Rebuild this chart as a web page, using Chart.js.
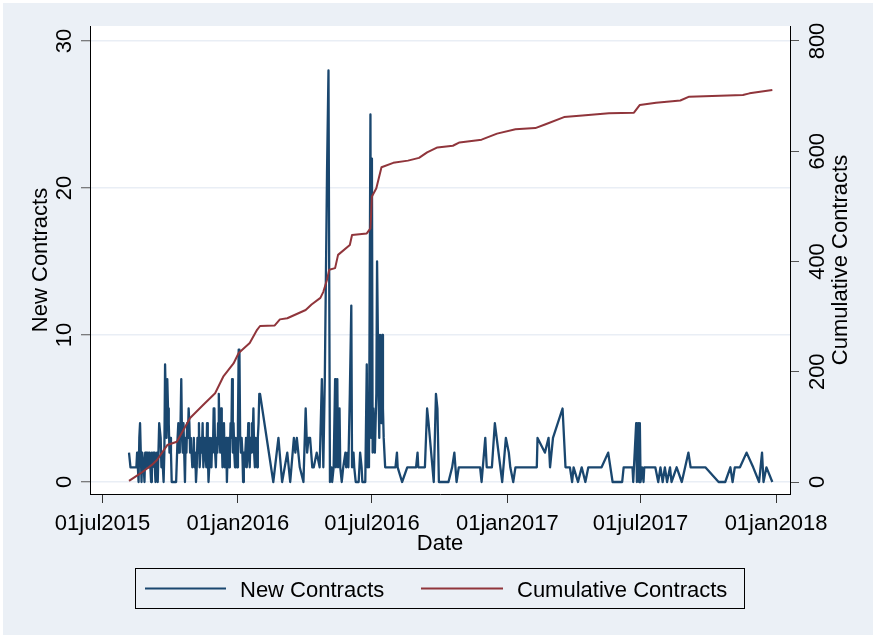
<!DOCTYPE html>
<html>
<head>
<meta charset="utf-8">
<title>New and Cumulative Contracts</title>
<script src="https://cdn.jsdelivr.net/npm/chart.js@4.4.1/dist/chart.umd.min.js"></script>
<style>
  html, body { margin: 0; padding: 0; background: #ffffff; }
  canvas { display: block; }
</style>
</head>
<body>
<canvas id="chart" width="876" height="638"></canvas>
<script>
// ---- data ----------------------------------------------------------------
const seriesNames = ['New Contracts', 'Cumulative Contracts'];
const xTickDates = ['2015-07-01', '2016-01-01', '2016-07-01', '2017-01-01', '2017-07-01', '2018-01-01'];
const leftTicks = [0, 10, 20, 30];
const rightTicks = [0, 200, 400, 600, 800];

// new contracts, one value per day starting at dailyStart
const dailyStart = '2015-08-06';
const dailyCounts = [
  2, 2, 1, 1, 1, 1, 1, 1, 1, 1, 1,
  2, 1, 0, 3, 4, 4, 0,
  2, 2, 1, 0, 2, 1, 2, 2, 1, 2,
  2, 1, 0, 2, 1, 2, 2, 1, 0, 1,
  2, 0, 2, 4, 4, 3, 1, 2, 2, 0,
  2, 8, 8, 3, 7, 5, 4, 2, 3, 2,
  0, 0, 0, 0, 0, 0, 0, 0,
  3, 4, 2, 3, 4, 7, 3, 2, 4, 2,
  0, 3, 2, 4, 3, 5, 4, 2, 3, 2,
  1, 2, 3, 1, 2, 0, 1, 3, 2, 4,
  1, 2, 3, 2, 4, 1, 2, 3, 2, 1,
  4, 2, 0, 1, 3, 2, 1, 3, 2, 5,
  5, 2, 1, 3, 2, 4, 6, 3, 2, 5,
  3, 1, 2, 4, 1, 2, 3, 0, 2, 3,
  1, 2, 4, 3, 7, 2, 4, 2, 1, 3,
  2, 1, 4, 9, 9, 3, 2, 3, 2, 0,
  2, 1, 2, 3, 1, 2, 4, 2, 1, 3,
  2, 4, 3, 5, 2, 1, 3, 2, 1, 3, 4, 6, 6
];

// new contracts on individual later dates
const laterDates = [
  '2016-02-18', '2016-02-25', '2016-03-01', '2016-03-08', '2016-03-12', '2016-03-17', '2016-03-19', '2016-03-21',
  '2016-03-25', '2016-03-30', '2016-04-02', '2016-04-04', '2016-04-06', '2016-04-08', '2016-04-11', '2016-04-13',
  '2016-04-17', '2016-04-21', '2016-04-24', '2016-04-26', '2016-04-28', '2016-05-01', '2016-05-03', '2016-05-05',
  '2016-05-07', '2016-05-08', '2016-05-10', '2016-05-12', '2016-05-13', '2016-05-15', '2016-05-16', '2016-05-18',
  '2016-05-19', '2016-05-21', '2016-05-23', '2016-05-26', '2016-05-27', '2016-05-29', '2016-05-30', '2016-06-01',
  '2016-06-03', '2016-06-04', '2016-06-06', '2016-06-07', '2016-06-09', '2016-06-13', '2016-06-15', '2016-06-17',
  '2016-06-18', '2016-06-22', '2016-06-24', '2016-06-25', '2016-06-26', '2016-06-27', '2016-06-29', '2016-06-30',
  '2016-07-01', '2016-07-02', '2016-07-03', '2016-07-05', '2016-07-07', '2016-07-08', '2016-07-10', '2016-07-11',
  '2016-07-12', '2016-07-14', '2016-07-15', '2016-07-16', '2016-07-17', '2016-07-19', '2016-08-02', '2016-08-04',
  '2016-08-05', '2016-08-11', '2016-08-18', '2016-08-30', '2016-09-01', '2016-09-02', '2016-09-11', '2016-09-14',
  '2016-09-16', '2016-09-23', '2016-09-26', '2016-09-28', '2016-09-30', '2016-10-13', '2016-10-18', '2016-10-21',
  '2016-10-24', '2016-10-27', '2016-11-25', '2016-11-27', '2016-12-02', '2016-12-04', '2016-12-11', '2016-12-15',
  '2016-12-25', '2016-12-30', '2017-01-03', '2017-01-05', '2017-01-09', '2017-01-12', '2017-02-10', '2017-02-11',
  '2017-02-21', '2017-02-26', '2017-02-28', '2017-03-04', '2017-03-17', '2017-03-21', '2017-03-27', '2017-03-30',
  '2017-04-01', '2017-04-07', '2017-04-12', '2017-04-17', '2017-04-21', '2017-05-09', '2017-05-18', '2017-05-24',
  '2017-06-06', '2017-06-08', '2017-06-20', '2017-06-21', '2017-06-25', '2017-06-26', '2017-06-28', '2017-06-29',
  '2017-06-30', '2017-07-01', '2017-07-03', '2017-07-05', '2017-07-06', '2017-07-21', '2017-07-25', '2017-07-28',
  '2017-07-31', '2017-08-03', '2017-08-06', '2017-08-10', '2017-08-12', '2017-08-19', '2017-08-26', '2017-09-04',
  '2017-09-07', '2017-09-27', '2017-10-15', '2017-10-24', '2017-10-31', '2017-11-03', '2017-11-06', '2017-11-13',
  '2017-11-22', '2017-12-01', '2017-12-09', '2017-12-13', '2017-12-15', '2017-12-19', '2017-12-27'
];
const laterCounts = [
  0, 3, 0, 2, 0, 3, 2, 3,
  1, 0, 5, 2, 3, 3, 1, 1,
  2, 1, 7, 1, 7, 21, 28, 0,
  1, 0, 1, 7, 1, 7, 1, 5,
  1, 0, 1, 2, 1, 2, 1, 6,
  12, 1, 2, 1, 0, 0, 2, 1,
  0, 0, 8, 1, 6, 1, 25, 3,
  22, 2, 5, 2, 6, 15, 6, 3,
  10, 4, 10, 5, 3, 1, 1, 2,
  1, 0, 1, 1, 2, 1, 1, 5,
  4, 0, 6, 5, 0, 0, 1, 2,
  0, 1, 1, 0, 3, 1, 1, 4,
  0, 3, 2, 1, 0, 1, 1, 3,
  2, 3, 1, 3, 5, 1, 1, 0,
  1, 0, 1, 0, 1, 1, 2, 0,
  0, 1, 1, 0, 4, 0, 4, 0,
  4, 0, 1, 0, 1, 1, 0, 1,
  0, 1, 0, 1, 0, 1, 0, 2,
  1, 1, 0, 0, 1, 0, 1, 1,
  2, 1, 0, 2, 0, 1, 0
];

// running total of contracts
const cumDates = [
  '2015-08-06', '2015-08-22', '2015-09-06', '2015-09-13', '2015-09-27', '2015-10-10', '2015-10-28', '2015-11-15',
  '2015-12-01', '2015-12-12', '2015-12-26', '2016-01-02', '2016-01-17', '2016-01-27', '2016-01-31', '2016-02-20',
  '2016-02-27', '2016-03-08', '2016-04-02', '2016-04-10', '2016-04-22', '2016-04-26', '2016-05-01', '2016-05-04',
  '2016-05-12', '2016-05-16', '2016-06-01', '2016-06-04', '2016-06-24', '2016-06-29', '2016-07-01', '2016-07-07',
  '2016-07-14', '2016-07-30', '2016-08-19', '2016-09-03', '2016-09-14', '2016-09-28', '2016-10-19', '2016-10-28',
  '2016-11-27', '2016-12-18', '2017-01-12', '2017-02-08', '2017-02-22', '2017-03-19', '2017-04-13', '2017-05-19',
  '2017-06-22', '2017-06-30', '2017-07-22', '2017-08-24', '2017-09-05', '2017-11-17', '2017-11-26', '2017-12-27'
];
const cumValues = [
  2, 16, 31, 40, 67, 73, 116, 140,
  161, 191, 215, 234, 252, 276, 283, 284,
  295, 297, 312, 322, 334, 345, 367, 385,
  388, 412, 430, 448, 451, 460, 518, 533,
  571, 579, 583, 588, 598, 607, 610, 616,
  621, 632, 640, 642, 649, 662, 665, 669,
  670, 684, 688, 692, 699, 702, 705, 711
];

// ---- helpers -------------------------------------------------------------
const DAY_MS = 86400000;
const toMs = s => Date.parse(s + 'T00:00:00Z');
const MONTHS = ['jan', 'feb', 'mar', 'apr', 'may', 'jun', 'jul', 'aug', 'sep', 'oct', 'nov', 'dec'];
function formatDate(v) {
  const d = new Date(v);
  const dd = String(d.getUTCDate()).padStart(2, '0');
  return dd + MONTHS[d.getUTCMonth()] + d.getUTCFullYear();
}

const newPoints = [];
const startMs = toMs(dailyStart);
dailyCounts.forEach((c, i) => newPoints.push({ x: startMs + i * DAY_MS, y: c }));
laterDates.forEach((d, i) => newPoints.push({ x: toMs(d), y: laterCounts[i] }));
const cumPoints = cumDates.map((d, i) => ({ x: toMs(d), y: cumValues[i] }));

const NAVY = '#1a476f';
const MAROON = '#90353b';
const FONT = '22px "Liberation Sans", Arial, Helvetica, sans-serif';

// Stata-like two-axis frame: background, rotated axis text and boxed legend
const framePlugin = {
  id: 'frame',
  beforeDraw(chart) {
    const { ctx, chartArea: a, width, height } = chart;
    ctx.save();
    ctx.fillStyle = '#ffffff';
    ctx.fillRect(0, 0, width, height);
    ctx.fillStyle = '#ebf0f6';
    ctx.fillRect(3, 3, width - 6, height - 6);
    ctx.fillStyle = '#ffffff';
    ctx.fillRect(a.left, a.top, a.right - a.left, a.bottom - a.top);
    ctx.restore();
  },
  afterDraw(chart) {
    const { ctx, chartArea: a } = chart;
    const { x, y, y2 } = chart.scales;
    ctx.save();
    ctx.fillStyle = '#000000';
    ctx.font = FONT;
    ctx.textBaseline = 'alphabetic';

    // date axis
    ctx.textAlign = 'center';
    x.ticks.forEach(t => ctx.fillText(formatDate(t.value), x.getPixelForValue(t.value), 530));
    ctx.fillText('Date', (a.left + a.right) / 2, 550);

    // vertical axes: text reads bottom to top
    const vtext = (s, px, py) => {
      ctx.save();
      ctx.translate(px, py);
      ctx.rotate(-Math.PI / 2);
      ctx.textAlign = 'center';
      ctx.fillText(s, 0, 0);
      ctx.restore();
    };
    y.ticks.forEach(t => vtext(String(t.value), 71, y.getPixelForValue(t.value)));
    y2.ticks.forEach(t => vtext(String(t.value), 824, y2.getPixelForValue(t.value)));
    const midY = (a.top + a.bottom) / 2;
    vtext(seriesNames[0], 47, midY);
    vtext(seriesNames[1], 847, midY);

    // legend
    ctx.strokeStyle = '#000000';
    ctx.lineWidth = 1;
    ctx.strokeRect(135.5, 568.5, 609, 40);
    const items = [
      { x0: 145, x1: 226, tx: 240 },
      { x0: 421, x1: 503, tx: 517 }
    ];
    chart.data.datasets.forEach((ds, i) => {
      const it = items[i];
      ctx.strokeStyle = ds.borderColor;
      ctx.lineWidth = 2;
      ctx.beginPath();
      ctx.moveTo(it.x0, 588.5);
      ctx.lineTo(it.x1, 588.5);
      ctx.stroke();
      ctx.textAlign = 'left';
      ctx.fillStyle = '#000000';
      ctx.fillText(ds.label, it.tx, 596.5);
    });
    ctx.restore();
  }
};

new Chart(document.getElementById('chart'), {
  type: 'line',
  data: {
    datasets: [
      {
        label: seriesNames[0],
        data: newPoints,
        yAxisID: 'y',
        borderColor: NAVY,
        borderWidth: 2.3,
        borderJoinStyle: 'round',
        pointRadius: 0,
        tension: 0,
        fill: false,
        order: 1
      },
      {
        label: seriesNames[1],
        data: cumPoints,
        yAxisID: 'y2',
        borderColor: MAROON,
        borderWidth: 2,
        borderJoinStyle: 'round',
        pointRadius: 0,
        tension: 0,
        fill: false,
        order: 0
      }
    ]
  },
  options: {
    responsive: false,
    animation: false,
    parsing: false,
    normalized: true,
    layout: { padding: { left: 0, right: 0, top: 26, bottom: 0 } },
    plugins: {
      legend: { display: false },
      tooltip: { enabled: false },
      title: { display: false }
    },
    scales: {
      x: {
        type: 'linear',
        position: 'bottom',
        min: toMs('2015-06-14'),
        max: toMs('2018-01-20'),
        afterBuildTicks: s => { s.ticks = xTickDates.map(d => ({ value: toMs(d) })); },
        afterFit: s => { s.height = 144; },
        ticks: { display: false },
        grid: { drawOnChartArea: false, drawTicks: true, tickLength: 9, tickColor: '#333333', tickWidth: 1 },
        border: { display: true, color: '#000000', width: 1 }
      },
      y: {
        type: 'linear',
        position: 'left',
        min: -0.816,
        max: 31.02,
        afterBuildTicks: s => { s.ticks = leftTicks.map(v => ({ value: v })); },
        afterFit: s => { s.width = 90; },
        ticks: { display: false },
        grid: { color: '#e9eef5', lineWidth: 1.5, drawTicks: true, tickLength: 9, tickColor: '#555555', tickWidth: 1 },
        border: { display: true, color: '#000000', width: 1 }
      },
      y2: {
        type: 'linear',
        position: 'right',
        min: -0.816 * 800 / 30,
        max: 31.02 * 800 / 30,
        afterBuildTicks: s => { s.ticks = rightTicks.map(v => ({ value: v })); },
        afterFit: s => { s.width = 86; },
        ticks: { display: false },
        grid: { drawOnChartArea: false, drawTicks: true, tickLength: 9, tickColor: '#555555', tickWidth: 1 },
        border: { display: true, color: '#000000', width: 1 }
      }
    }
  },
  plugins: [framePlugin]
});
</script>
</body>
</html>
